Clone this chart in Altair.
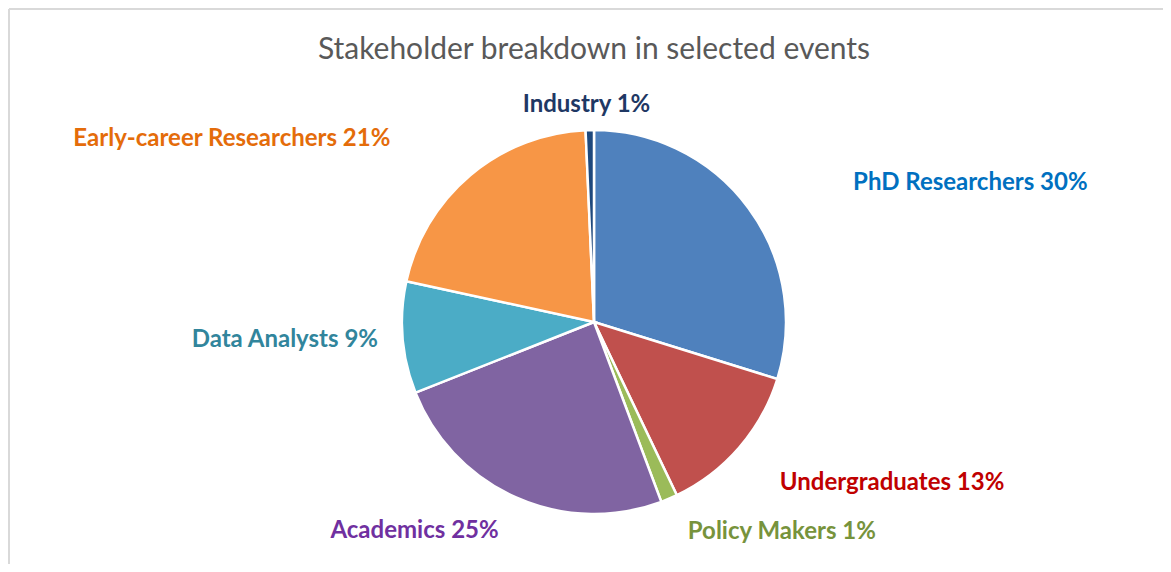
import altair as alt
import pandas as pd

# ---- data ----
categories = ["PhD Researchers", "Undergraduates", "Policy Makers", "Academics",
              "Data Analysts", "Early-career Researchers", "Industry"]
shares = [29.8, 13.1, 1.4, 24.7, 9.4, 20.9, 0.7]
pct_labels = ["30%", "13%", "1%", "25%", "9%", "21%", "1%"]
slice_colors = ["#4F81BD", "#C0504D", "#9BBB59", "#8064A2", "#4BACC6", "#F79646", "#1F497D"]
label_colors = ["#0070C0", "#C00000", "#77933C", "#7030A0", "#31859C", "#E46C0A", "#1F3864"]

df = pd.DataFrame({
    "category": categories,
    "share": shares,
    "pct": pct_labels,
    "idx": list(range(len(categories))),
})

# label nudges (pixels) relative to the slice mid-angle at radius 250
label_offsets = {
    "PhD Researchers": (175, 16),
    "Undergraduates": (109, 4),
    "Policy Makers": (90, -13),
    "Academics": (-78, -12),
    "Data Analysts": (-60, 5),
    "Early-career Researchers": (-201, 15),
    "Industry": (-2, 40),
}

FONT = "Lato"
W, H = 1138, 484

theta_scale = alt.Scale(domain=[0, 100])

base = alt.Chart(df)

pie = base.mark_arc(outerRadius=192, stroke="white", strokeWidth=2.5).encode(
    theta=alt.Theta("share:Q", stack=True, scale=theta_scale),
    order=alt.Order("idx:Q"),
    color=alt.Color("category:N", scale=alt.Scale(domain=categories, range=slice_colors), legend=None),
)

label_base = base.transform_window(
    cum="sum(share)", sort=[alt.SortField("idx")], frame=[None, 0]
).transform_calculate(
    mid="datum.cum - datum.share / 2",
    label="datum.category + ' ' + datum.pct",
)

label_layers = []
for cat, col in zip(categories, label_colors):
    dx, dy = label_offsets[cat]
    label_layers.append(
        label_base.transform_filter(alt.datum.category == cat)
        .mark_text(radius=250, dx=dx, dy=dy, font=FONT, fontSize=24, fontWeight="bold",
                   color=col, align="center", baseline="alphabetic")
        .encode(theta=alt.Theta("mid:Q", stack=False, scale=theta_scale), text="label:N")
    )

frame_data = alt.Chart(pd.DataFrame({"k": [0]}))
frame_top = frame_data.mark_rule(color="#D9D9D9", strokeWidth=2).encode(
    x=alt.value(-16), x2=alt.value(W), y=alt.value(-71)
)
frame_left = frame_data.mark_rule(color="#D9D9D9", strokeWidth=2).encode(
    x=alt.value(-16), y=alt.value(-71), y2=alt.value(H)
)

chart = alt.layer(frame_top, frame_left, pie, *label_layers).properties(
    width=W,
    height=H,
    autosize="none",
    padding={"left": 17, "top": 72, "right": 0, "bottom": 0},
    title=alt.TitleParams(
        "Stakeholder breakdown in selected events",
        font=FONT, fontSize=30, fontWeight="normal", color="#595959",
        anchor="middle", offset=16, dy=73,
    ),
).configure_view(strokeWidth=0)

chart.save("out.html", embed_options={"renderer": "svg", "actions": False})
